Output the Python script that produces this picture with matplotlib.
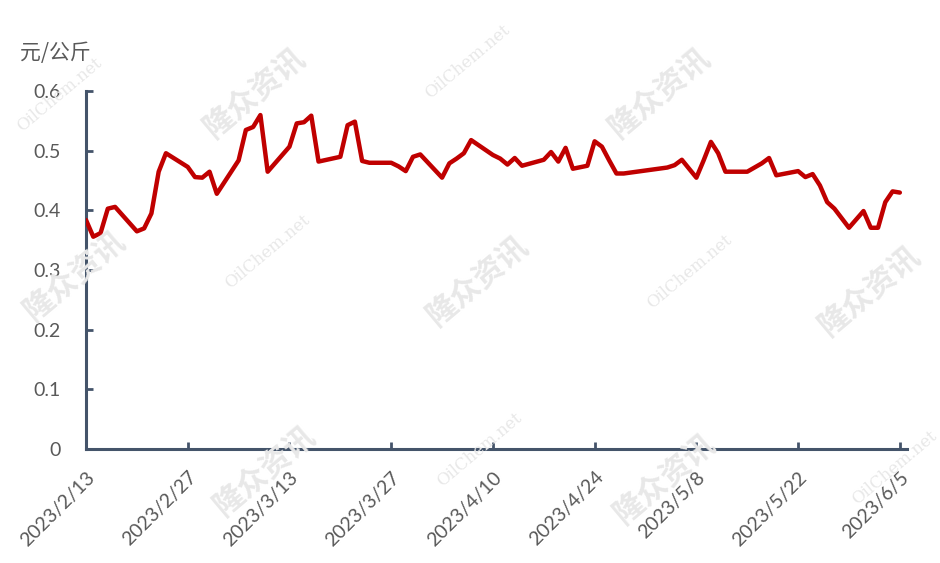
import matplotlib
matplotlib.use("Agg")
import matplotlib.pyplot as plt
import datetime as dt

dates = ["2023-02-13","2023-02-14","2023-02-15","2023-02-16","2023-02-17",
         "2023-02-20","2023-02-21","2023-02-22","2023-02-23","2023-02-24",
         "2023-02-27","2023-02-28","2023-03-01","2023-03-02","2023-03-03",
         "2023-03-06","2023-03-07","2023-03-08","2023-03-09","2023-03-10",
         "2023-03-13","2023-03-14","2023-03-15","2023-03-16","2023-03-17",
         "2023-03-20","2023-03-21","2023-03-22","2023-03-23","2023-03-24",
         "2023-03-27","2023-03-28","2023-03-29","2023-03-30","2023-03-31",
         "2023-04-03","2023-04-04","2023-04-05","2023-04-06","2023-04-07",
         "2023-04-10","2023-04-11","2023-04-12","2023-04-13","2023-04-14",
         "2023-04-17","2023-04-18","2023-04-19","2023-04-20","2023-04-21",
         "2023-04-23","2023-04-24","2023-04-25","2023-04-26","2023-04-27","2023-04-28",
         "2023-05-04","2023-05-05","2023-05-06",
         "2023-05-08","2023-05-09","2023-05-10","2023-05-11","2023-05-12",
         "2023-05-15","2023-05-16","2023-05-17","2023-05-18","2023-05-19",
         "2023-05-22","2023-05-23","2023-05-24","2023-05-25","2023-05-26","2023-05-27",
         "2023-05-29","2023-05-31","2023-06-01","2023-06-02","2023-06-03","2023-06-04","2023-06-05"]
prices = [0.384,0.356,0.362,0.403,0.406,
          0.365,0.370,0.395,0.465,0.496,
          0.473,0.456,0.455,0.465,0.428,
          0.484,0.535,0.540,0.560,0.465,
          0.507,0.546,0.548,0.559,0.482,
          0.490,0.543,0.549,0.483,0.480,
          0.480,0.474,0.466,0.490,0.494,
          0.455,0.479,0.487,0.496,0.518,
          0.493,0.487,0.477,0.488,0.475,
          0.485,0.498,0.482,0.505,0.470,
          0.475,0.516,0.507,0.484,0.462,0.462,
          0.472,0.476,0.485,
          0.455,0.484,0.515,0.496,0.465,
          0.465,0.472,0.479,0.488,0.459,
          0.466,0.456,0.461,0.442,0.414,0.403,
          0.371,0.399,0.371,0.371,0.414,0.432,0.430]
tick_dates = ["2023-02-13","2023-02-27","2023-03-13","2023-03-27","2023-04-10",
              "2023-04-24","2023-05-08","2023-05-22","2023-06-05"]
y_ticks = [0, 0.1, 0.2, 0.3, 0.4, 0.5, 0.6]
y_unit = "元/公斤"
wm_cn = "隆众资讯"
wm_en = "OilChem.net"

plt.rcParams['font.family'] = ['Lato', 'Noto Sans CJK SC', 'DejaVu Sans']

x = [dt.datetime.strptime(d, "%Y-%m-%d") for d in dates]
tx = [dt.datetime.strptime(d, "%Y-%m-%d") for d in tick_dates]
tlabels = [f"{t.year}/{t.month}/{t.day}" for t in tx]

fig = plt.figure(figsize=(9.4, 5.63), dpi=100)
ax = fig.add_axes([0.0915, 0.2025, 0.8735, 0.6355])

# watermarks
wm_c = "#e8e8e8"
for (px, py) in [(255, 92), (660, 92), (478, 280), (870, 290), (75, 275), (265, 470), (665, 478)]:
    fig.text(px/940, 1-py/563, wm_cn, fontsize=22, fontweight='bold', color=wm_c,
             rotation=40, ha='center', va='center', family=['Noto Sans CJK SC'], zorder=0)
for (px, py) in [(468, 62), (268, 252), (690, 272), (895, 468), (480, 450), (60, 95)]:
    fig.text(px/940, 1-py/563, wm_en, fontsize=12, color=wm_c, family=['DejaVu Serif'],
             rotation=40, ha='center', va='center', zorder=0)

ax.patch.set_alpha(0)
ax.plot(x, prices, color='#C00000', lw=3.2, solid_joinstyle='round', solid_capstyle='round', zorder=3)

ax.set_xlim(dt.datetime(2023, 2, 13), dt.datetime(2023, 6, 6))
ax.set_ylim(0, 0.6)
ax.set_yticks(y_ticks)
ax.set_yticklabels([("0" if v == 0 else f"{v:.1f}") for v in y_ticks])
ax.set_xticks(tx)
ax.set_xticklabels(tlabels, rotation=45, ha='right', va='top', rotation_mode='anchor')

axc = '#44546A'
for s in ['top', 'right']:
    ax.spines[s].set_visible(False)
for s in ['left', 'bottom']:
    ax.spines[s].set_color(axc)
    ax.spines[s].set_linewidth(2.2)
ax.tick_params(axis='both', direction='in', length=5, width=2, color=axc,
               labelcolor='#595959', labelsize=14)
ax.tick_params(axis='y', pad=18)
ax.tick_params(axis='x', pad=14)

fig.text(20/940, 1-53/563, y_unit, fontsize=15, color='#595959', ha='left', va='center',
         family=['Noto Sans CJK SC'])

fig.savefig("out.png", dpi=100)
